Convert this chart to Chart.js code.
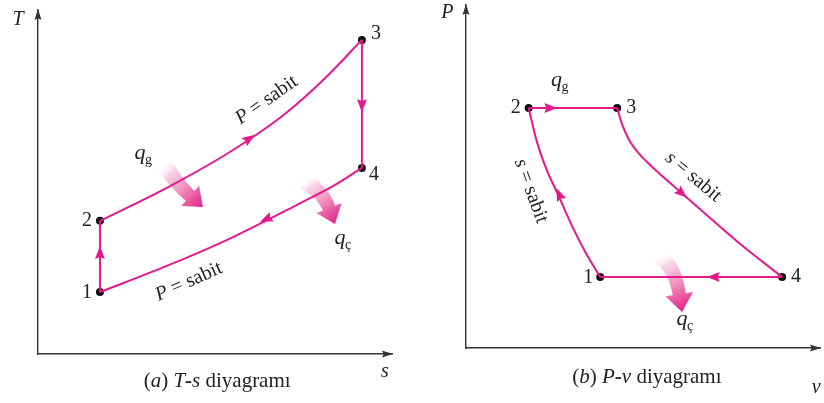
<!DOCTYPE html>
<html>
<head>
<meta charset="utf-8">
<script src="https://cdn.jsdelivr.net/npm/chart.js@4.4.1/dist/chart.umd.min.js"></script>
<style>
  html, body { margin: 0; padding: 0; background: #fff; }
  #wrap { position: relative; width: 824px; height: 403px; }
  canvas { position: absolute; top: 0; }
  #ts { left: 0; }
  #pv { left: 430px; }
</style>
</head>
<body>
<div id="wrap">
  <canvas id="ts" width="430" height="403"></canvas>
  <canvas id="pv" width="394" height="403"></canvas>
</div>
<script>
const PINK = '#e6198c';
const INK = '#222';
const SERIF = '"Liberation Serif", "DejaVu Serif", serif';

// ---- T-s diagram (relative units, 0..100 on both axes) ----
const tsStateNames = ['1', '2', '3', '4'];
const tsStateS = [17.5, 17.5, 91.5, 91.5];
const tsStateT = [18.0, 38.7, 91.3, 54.1];
// heat addition 2 -> 3 at constant pressure
const tsAddS = [17.5, 36.4, 55.1, 70.0, 81.0, 91.5];
const tsAddT = [38.7, 48.3, 59.3, 70.0, 80.1, 91.3];
// heat rejection 4 -> 1 at constant pressure
const tsRejS = [17.5, 36.4, 55.1, 74.0, 83.3, 91.5];
const tsRejT = [18.0, 25.6, 34.0, 43.8, 48.8, 54.1];
// direction marks on the cycle: [fromS, fromT, toS, toT]
const tsArrows = [
  [17.5, 27.9, 17.5, 31.4],
  [57.9, 61.3, 61.3, 63.7],
  [91.5, 73.8, 91.5, 70.3],
  [66.4, 40.1, 62.7, 38.4]
];

// ---- P-v diagram (relative units, 0..100 on both axes) ----
const pvStateNames = ['1', '2', '3', '4'];
const pvStateV = [37.9, 17.7, 42.7, 89.3];
const pvStateP = [20.7, 70.0, 70.0, 20.7];
// isentropic compression 1 -> 2
const pvCompV = [17.7, 19.9, 22.8, 25.8, 29.8, 33.7, 37.9];
const pvCompP = [70.0, 60.6, 51.9, 45.2, 35.9, 28.0, 20.7];
// isentropic expansion 3 -> 4
const pvExpV = [42.7, 44.0, 46.0, 49.0, 53.0, 60.0, 68.0, 78.0, 89.3];
const pvExpP = [70.0, 65.5, 60.8, 56.5, 52.4, 46.0, 38.8, 29.9, 20.7];
const pvArrows = [
  [22.8, 70.0, 25.8, 70.0],
  [60.1, 45.9, 62.4, 43.8],
  [72.2, 20.7, 68.0, 20.7],
  [27.0, 43.1, 25.6, 46.6]
];

const pts = (xs, ys) => xs.map((x, i) => ({ x: x, y: ys[i] }));

function arrowHead(ctx, x0, y0, x1, y1, len, half, color) {
  const a = Math.atan2(y1 - y0, x1 - x0);
  ctx.save();
  ctx.translate(x1, y1);
  ctx.rotate(a);
  ctx.beginPath();
  ctx.moveTo(0, 0);
  ctx.lineTo(-len, -half);
  ctx.lineTo(-len * 0.85, 0);
  ctx.lineTo(-len, half);
  ctx.closePath();
  ctx.fillStyle = color;
  ctx.fill();
  ctx.restore();
}

// thick curved arrow with a fading gradient (heat in / heat out)
function heatArrow(ctx, p0, c, p2, w0, w1, hw, hl) {
  const dx = p2.x - c.x, dy = p2.y - c.y, d = Math.hypot(dx, dy);
  const ux = dx / d, uy = dy / d;
  const b = { x: p2.x - ux * hl, y: p2.y - uy * hl };
  const N = 24, left = [], right = [];
  let nEnd = { x: 0, y: 0 };
  for (let i = 0; i <= N; i++) {
    const t = i / N, m = 1 - t;
    const x = m * m * p0.x + 2 * m * t * c.x + t * t * b.x;
    const y = m * m * p0.y + 2 * m * t * c.y + t * t * b.y;
    let tx = 2 * m * (c.x - p0.x) + 2 * t * (b.x - c.x);
    let ty = 2 * m * (c.y - p0.y) + 2 * t * (b.y - c.y);
    const tl = Math.hypot(tx, ty) || 1;
    const nx = -ty / tl, ny = tx / tl;
    const w = (w0 + (w1 - w0) * t) / 2;
    left.push([x + nx * w, y + ny * w]);
    right.push([x - nx * w, y - ny * w]);
    nEnd = { x: nx, y: ny };
  }
  ctx.save();
  ctx.beginPath();
  ctx.moveTo(left[0][0], left[0][1]);
  left.forEach(p => ctx.lineTo(p[0], p[1]));
  ctx.lineTo(b.x + nEnd.x * hw / 2, b.y + nEnd.y * hw / 2);
  ctx.lineTo(p2.x, p2.y);
  ctx.lineTo(b.x - nEnd.x * hw / 2, b.y - nEnd.y * hw / 2);
  for (let i = right.length - 1; i >= 0; i--) ctx.lineTo(right[i][0], right[i][1]);
  ctx.closePath();
  const g = ctx.createLinearGradient(p0.x, p0.y, p2.x, p2.y);
  g.addColorStop(0, 'rgba(255,255,255,0)');
  g.addColorStop(0.2, 'rgba(246,200,222,0.75)');
  g.addColorStop(0.65, 'rgba(236,110,170,0.95)');
  g.addColorStop(1, 'rgb(226,30,135)');
  ctx.fillStyle = g;
  ctx.fill();
  ctx.restore();
}

// text segments: [text, style] with style '', 'italic' or 'bold'
function richText(ctx, x, y, parts, size) {
  ctx.save();
  ctx.textBaseline = 'middle';
  ctx.textAlign = 'left';
  let total = 0;
  parts.forEach(p => { ctx.font = p[1] + ' ' + size + 'px ' + SERIF; total += ctx.measureText(p[0]).width; });
  let cx = x - total / 2;
  parts.forEach(p => {
    ctx.font = p[1] + ' ' + size + 'px ' + SERIF;
    ctx.fillText(p[0], cx, y);
    cx += ctx.measureText(p[0]).width;
  });
  ctx.restore();
}

function qLabel(ctx, x, y, sub) {
  ctx.save();
  ctx.fillStyle = INK;
  ctx.textAlign = 'center';
  ctx.textBaseline = 'middle';
  ctx.font = 'italic 22px ' + SERIF;
  ctx.fillText('q', x, y);
  ctx.font = '14px ' + SERIF;
  ctx.textAlign = 'left';
  ctx.fillText(sub, x + 5, y + 7);
  ctx.restore();
}

function rotated(ctx, x, y, angle, parts, size) {
  ctx.save();
  ctx.translate(x, y);
  ctx.rotate(angle * Math.PI / 180);
  ctx.fillStyle = INK;
  richText(ctx, 0, 0, parts, size);
  ctx.restore();
}

// plugin drawing axes arrows, cycle direction marks, heat arrows and labels
const decor = {
  id: 'decor',
  beforeDatasetsDraw(chart, args, o) {
    const ctx = chart.ctx, sx = chart.scales.x, sy = chart.scales.y;
    const P = (a, b) => ({ x: sx.getPixelForValue(a), y: sy.getPixelForValue(b) });
    o.heat.forEach(h => heatArrow(ctx, P(h[0], h[1]), P(h[2], h[3]), P(h[4], h[5]), h[6], h[7], h[8], h[9]));
  },
  afterDatasetsDraw(chart, args, o) {
    const ctx = chart.ctx, sx = chart.scales.x, sy = chart.scales.y;
    const P = (a, b) => ({ x: sx.getPixelForValue(a), y: sy.getPixelForValue(b) });
    const area = chart.chartArea;
    // axis arrow heads
    arrowHead(ctx, area.left, area.top + 20, area.left, area.top - 1, 11, 3.5, '#333');
    arrowHead(ctx, area.right - 20, area.bottom, area.right + 1, area.bottom, 11, 3.5, '#333');
    // flow direction on the cycle
    o.arrows.forEach(a => {
      const p = P(a[0], a[1]), q = P(a[2], a[3]);
      arrowHead(ctx, p.x, p.y, q.x, q.y, 13, 5, PINK);
    });
    ctx.fillStyle = INK;
    // state numbers
    ctx.save();
    ctx.font = '20px ' + SERIF;
    ctx.textAlign = 'center';
    ctx.textBaseline = 'middle';
    o.names.forEach((n, i) => {
      const p = P(o.sx[i], o.sy[i]);
      ctx.fillText(n, p.x + o.off[i][0], p.y + o.off[i][1]);
    });
    ctx.restore();
    // axis names
    o.axisNames.forEach(a => {
      const p = P(a[1], a[2]);
      ctx.save();
      ctx.fillStyle = INK;
      ctx.font = 'italic 20px ' + SERIF;
      ctx.textAlign = 'center';
      ctx.textBaseline = 'middle';
      ctx.fillText(a[0], p.x, p.y);
      ctx.restore();
    });
    // process labels
    o.process.forEach(l => {
      const p = P(l[0], l[1]);
      rotated(ctx, p.x, p.y, l[2], [[l[3], 'italic'], [' = sabit', '']], 20);
    });
    o.q.forEach(l => { const p = P(l[0], l[1]); qLabel(ctx, p.x, p.y, l[2]); });
    // caption
    const c = P(o.caption[0], o.caption[1]);
    ctx.save();
    ctx.fillStyle = INK;
    richText(ctx, c.x, c.y, o.caption[2], 21);
    ctx.restore();
  }
};

function scaleOpts() {
  return {
    type: 'linear', min: 0, max: 100,
    grid: { display: false, drawTicks: false },
    border: { display: true, color: '#333', width: 1.4 },
    ticks: { display: false }
  };
}

function curve(data) {
  return { data: data, showLine: true, borderColor: PINK, borderWidth: 2, cubicInterpolationMode: 'monotone', pointRadius: 0, fill: false };
}

function stateSet(data) {
  return { data: data, showLine: false, pointRadius: 4, pointBackgroundColor: '#111', pointBorderWidth: 0 };
}

function makeChart(id, datasets, padding, decorOpts) {
  return new Chart(document.getElementById(id), {
    type: 'scatter',
    data: { datasets: datasets },
    options: {
      responsive: false,
      animation: false,
      layout: { padding: padding },
      scales: { x: scaleOpts(), y: scaleOpts() },
      plugins: { legend: { display: false }, tooltip: { enabled: false }, decor: decorOpts }
    },
    plugins: [decor]
  });
}

const tsState = pts(tsStateS, tsStateT);
makeChart('ts', [
  curve(pts(tsAddS, tsAddT)),
  curve(pts(tsRejS, tsRejT)),
  curve([tsState[0], tsState[1]]),
  curve([tsState[2], tsState[3]]),
  stateSet(tsState)
], { left: 38, top: 10, right: 38, bottom: 49 }, {
  arrows: tsArrows,
  names: tsStateNames, sx: tsStateS, sy: tsStateT,
  off: [[-13, 1], [-13, 0], [14, -6], [12, 7]],
  axisNames: [['T', -5.6, 97.1], ['s', 98.0, -5.2]],
  process: [[64.6, 73.8, -35, 'P'], [42.6, 21.0, -24, 'P']],
  q: [[28.8, 58.4, 'g'], [85.3, 33.6, 'ç']],
  heat: [
    [35.3, 55.5, 39.5, 49.1, 46.6, 42.7, 17, 13, 27, 17],
    [74.6, 50.6, 80.2, 47.7, 83.9, 37.8, 17, 13, 27, 17]
  ],
  caption: [50.6, -8.1, [['(', ''], ['a', 'italic'], [') ', ''], ['T', 'italic'], ['-', 'bold'], ['s', 'italic'], [' diyagramı', '']]]
});

const pvState = pts(pvStateV, pvStateP);
makeChart('pv', [
  curve(pts(pvCompV, pvCompP)),
  curve(pts(pvExpV, pvExpP)),
  curve([pvState[1], pvState[2]]),
  curve([pvState[3], pvState[0]]),
  stateSet(pvState)
], { left: 36, top: 5, right: 2, bottom: 55 }, {
  arrows: pvArrows,
  names: pvStateNames, sx: pvStateV, sy: pvStateP,
  off: [[-12, 1], [-13, 0], [14, 0], [14, 0]],
  axisNames: [['P', -5.3, 97.7], ['v', 98.9, -11.7]],
  process: [[18.3, 45.8, 70, 's'], [64.2, 49.9, 40, 's']],
  q: [[25.6, 78.1, 'g'], [61.0, 8.3, 'ç']],
  heat: [
    [54.2, 27.1, 59.0, 23.9, 61.0, 10.5, 16, 13, 28, 18]
  ],
  caption: [51.1, -8.5, [['(', ''], ['b', 'italic'], [') ', ''], ['P', 'italic'], ['-', 'bold'], ['v', 'italic'], [' diyagramı', '']]]
});
</script>
</body>
</html>
